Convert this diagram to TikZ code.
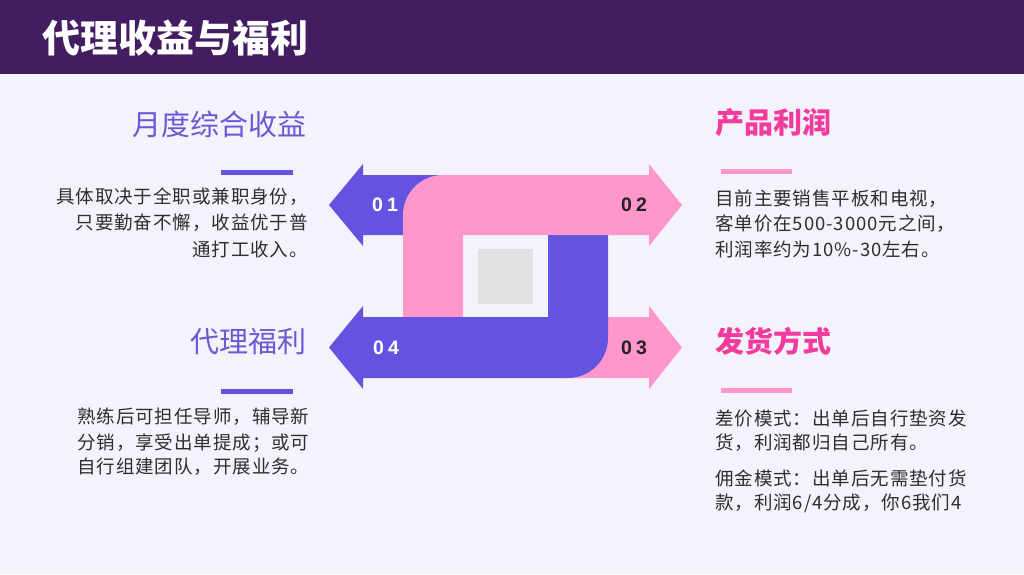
\documentclass[tikz,border=0pt]{standalone}
\usepackage{fontspec}
\newfontfamily\cjk{Noto Sans CJK SC}
\newfontfamily\cjkbody[LetterSpace=5]{Noto Sans CJK SC}
\newfontfamily\numfont[LetterSpace=22]{Liberation Sans}
\definecolor{headbg}{HTML}{431D62}
\definecolor{pagebg}{HTML}{F4F3FB}
\definecolor{myblue}{HTML}{6452E1}
\definecolor{mypink}{HTML}{FF97CD}
\definecolor{headpink}{HTML}{F23B9C}
\definecolor{headblue}{HTML}{6D58D6}
\definecolor{bodytxt}{HTML}{2E2E2E}
\definecolor{numdark}{HTML}{222222}
\definecolor{graysq}{HTML}{E1E1E3}
\tikzset{
  body/.style={inner sep=0pt, text=bodytxt, font=\cjkbody\fontsize{18.5}{21}\selectfont},
  headL/.style={inner sep=0pt, text=headblue, font=\cjk\fontsize{29}{32}\selectfont},
  headR/.style={inner sep=0pt, text=headpink, font=\cjk\bfseries\fontsize{29}{32}\selectfont},
  numlab/.style={inner sep=0pt, font=\numfont\bfseries\fontsize{19.5}{22}\selectfont},
}
\begin{document}
\begin{tikzpicture}[x=1pt,y=-1pt]
\useasboundingbox (0,0) rectangle (1024,574);
\fill[pagebg] (0,0) rectangle (1024,574);
\fill[headbg] (0,0) rectangle (1024,74);
\node[anchor=west, inner sep=0pt, text=white, font=\cjk\bfseries\fontsize{38}{40}\selectfont] (title) at (42,38) {代理收益与福利};

% central graphic
\fill[myblue] (445,175) -- (363,175) -- (363,164) -- (329,205) -- (363,246) -- (363,235) -- (445,235) -- cycle;
\fill[mypink] (403,317) -- (403,215) .. controls (403,193) and (421,175) .. (443,175) -- (649,175) -- (649,164) -- (682,205) -- (649,246) -- (649,235) -- (463,235) -- (463,317) -- cycle;
\fill[mypink] (560,317) -- (649,317) -- (649,306) -- (682,347.5) -- (649,389) -- (649,378) -- (560,378) -- cycle;
\fill[myblue] (548,235) -- (608,235) -- (608,338) .. controls (608,360) and (590,378) .. (568,378) -- (363,378) -- (363,389) -- (329,347.5) -- (363,306) -- (363,317) -- (548,317) -- cycle;
\fill[graysq] (478,249) rectangle (533,304);

\node[numlab, text=white] (n01) at (385,205) {01};
\node[numlab, text=numdark] (n02) at (634,205) {02};
\node[numlab, text=numdark] (n03) at (634,348) {03};
\node[numlab, text=white] (n04) at (386,348) {04};

% top left
\node[headL, anchor=east] (h1) at (307,124) {月度综合收益};
\fill[myblue] (221,170) rectangle (293,175);
\node[body, anchor=east] (b11) at (308,197) {具体取决于全职或兼职身份，};
\node[body, anchor=east] (b12) at (308,223) {只要勤奋不懈，收益优于普};
\node[body, anchor=east] (b13) at (308,249) {通打工收入。};

% top right
\node[headR, anchor=west] (h2) at (715,123) {产品利润};
\fill[mypink] (721,169) rectangle (792,174);
\node[body, anchor=west] (b21) at (715,199) {目前主要销售平板和电视，};
\node[body, anchor=west] (b22) at (715,224) {客单价在500-3000元之间，};
\node[body, anchor=west] (b23) at (715,249) {利润率约为10\%-30左右。};

% bottom left
\node[headL, anchor=east] (h4) at (307,342) {代理福利};
\fill[myblue] (221,389) rectangle (293,394);
\node[body, anchor=west] (b41) at (77,417) {熟练后可担任导师，辅导新};
\node[body, anchor=west] (b42) at (77,443) {分销，享受出单提成；或可};
\node[body, anchor=west] (b43) at (77,467) {自行组建团队，开展业务。};

% bottom right
\node[headR, anchor=west] (h3) at (715,341) {发货方式};
\fill[mypink] (721,388) rectangle (792,393);
\node[body, anchor=west] (b31) at (715,418) {差价模式：出单后自行垫资发};
\node[body, anchor=west] (b32) at (715,443) {货，利润都归自己所有。};
\node[body, anchor=west] (b33) at (715,478) {佣金模式：出单后无需垫付货};
\node[body, anchor=west] (b34) at (715,503) {款，利润6/4分成，你6我们4};
\end{tikzpicture}
\end{document}
